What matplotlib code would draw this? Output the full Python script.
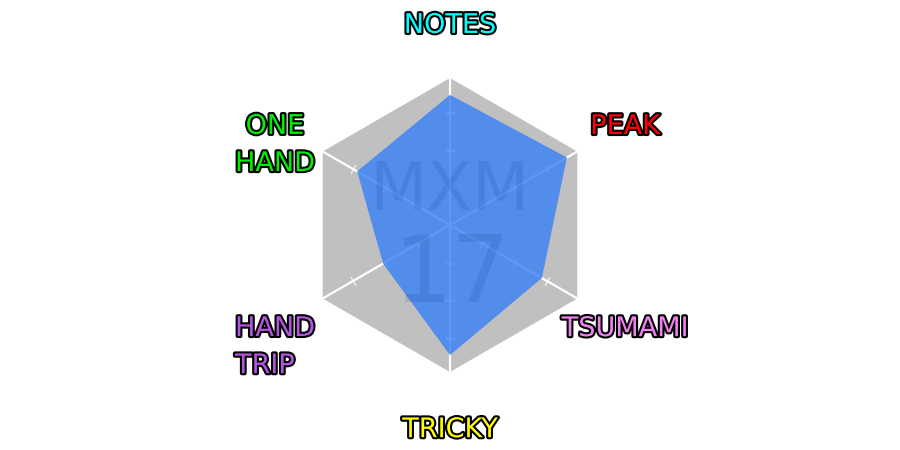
import numpy as np
import matplotlib
matplotlib.use("Agg")
import matplotlib.pyplot as plt
import matplotlib.patheffects as pe

# radar values, clockwise from the top
categories = ["NOTES", "PEAK", "TSUMAMI", "TRICKY", "HAND\nTRIP", "ONE\nHAND"]
values = [3.47, 3.6, 2.83, 3.47, 2.06, 2.86]
label_colors = ["#00ffff", "#ff0000", "#ee82ee", "#ffff00", "#b455e0", "#00ee00"]
r_max = 3.92
r_ticks = [1, 2, 3]
watermark = ["MXM", "17"]

fig = plt.figure(figsize=(9, 4.5), dpi=100)
ax = fig.add_axes([0.5 - 0.16333, 0.5 - 0.32667, 0.32667, 0.65333], projection="polar")
ax.set_theta_zero_location("N")
ax.set_theta_direction(-1)
ax.set_ylim(0, r_max)
ax.patch.set_visible(False)
ax.spines["polar"].set_visible(False)
ax.grid(False)
ax.set_xticks([])
ax.set_yticks([])

n = len(categories)
theta = np.arange(n) * 2 * np.pi / n
theta_c = np.append(theta, theta[0])

# grey hexagon background
ax.fill(theta_c, [r_max] * (n + 1), color="#c0c0c0", lw=0, zorder=1)

# spokes and tick marks
for t in theta:
    ax.plot([t, t], [0, r_max], color="white", lw=1.6, zorder=2)
    rot = 90 - np.degrees(t)
    ax.plot([t] * len(r_ticks), r_ticks, ls="none", marker=(2, 0, rot),
            ms=7, mew=1, color="white", alpha=0.8, zorder=2)

# data polygon
vals_c = values + values[:1]
ax.fill(theta_c, vals_c, color="#3a82f6", alpha=0.82, lw=0, zorder=3)

# watermark in the middle
fig.text(0.5, 1 - 210 / 450, watermark[0], fontsize=48, color="#1a3c8c", alpha=0.15,
         ha="center", va="baseline", zorder=5)
fig.text(0.503, 1 - 302 / 450, watermark[1], fontsize=66, color="#1a3c8c", alpha=0.15,
         ha="center", va="baseline", zorder=5)

# axis labels with black outline, first line sits on the label point
stroke = [pe.withStroke(linewidth=3, foreground="black")]
for t, lab, c in zip(theta, categories, label_colors):
    multi = "left" if lab.startswith("HAND") else "center"
    shift = -2.2 - 13.3 * lab.count("\n")
    ax.annotate(lab, xy=(t, 5.39), xytext=(0, shift), textcoords="offset points",
                annotation_clip=False,
                fontsize=19.5, color=c, ha="center", va="center",
                multialignment=multi, linespacing=1.56, path_effects=stroke, zorder=6)

fig.savefig("out.png", dpi=100, facecolor="white")
